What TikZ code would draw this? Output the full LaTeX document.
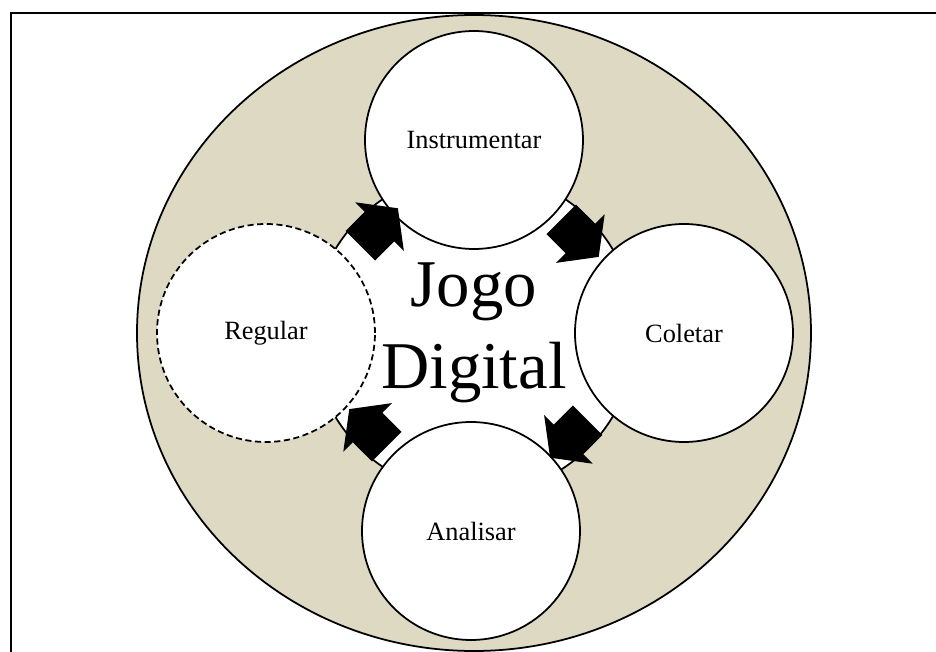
\documentclass[tikz,border=0pt]{standalone}
\usepackage{fontspec}
\setmainfont{Liberation Serif}
\usetikzlibrary{shapes.geometric,shapes.arrows,positioning}
\definecolor{anel}{RGB}{221,217,195}

\begin{document}
\begin{tikzpicture}[line width=1pt,font=\fontsize{15}{18}\selectfont]
        \tikzstyle{etapa}=[circle,draw=black,fill=white,minimum size=4.36cm,inner sep=0pt]
        \tikzstyle{seta}=[single arrow,fill=black,draw=none,inner xsep=0pt,inner ysep=0.4cm,minimum height=1.06cm,single arrow head extend=0.27cm,single arrow tip angle=106]
        \useasboundingbox (-9.48,-6.38) rectangle (9.24,6.66);
        \draw (9.6,6.40) -- (-9.26,6.40) -- (-9.26,-6.6);
        \node[ellipse,draw,fill=anel,minimum width=13.48cm,minimum height=12.72cm,inner sep=0pt] (anel) at (0,0) {};
        \node[circle,draw,fill=white,minimum size=6.48cm,inner sep=0pt] (miolo) at (0,0) {};
        \node[etapa] (instr) at (0,3.86) {Instrumentar};
        \node[etapa] (coletar) at (4.2,0) {Coletar};
        \node[etapa] (analisar) at (-0.06,-3.96) {Analisar};
        \node[etapa,dash pattern=on 3.5pt off 2pt] (regular) at (-4.16,0) {Regular};
        % setas do ciclo
        \node[seta,rotate=45] (s1) at (135:2.84) {};
        \node[seta,rotate=-45] (s2) at (45:2.84) {};
        \node[seta,rotate=-135] (s3) at (-45:2.84) {};
        \node[seta,rotate=135] (s4) at (-135:2.84) {};
        \node[align=center,font=\fontsize{38}{47}\selectfont] (jogo) at (0,0) {Jogo\\Digital};
\end{tikzpicture}
\end{document}
